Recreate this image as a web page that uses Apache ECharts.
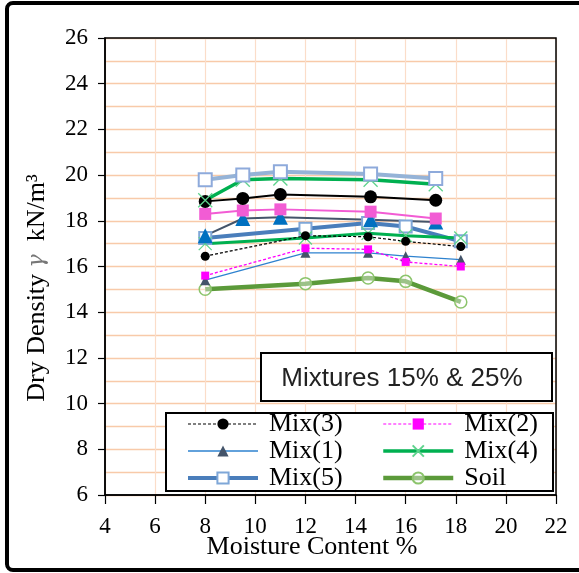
<!DOCTYPE html>
<html><head><meta charset="utf-8">
<script src="https://cdn.jsdelivr.net/npm/echarts@6/dist/echarts.min.js"></script>
<style>html,body{margin:0;padding:0;background:#fff}#c{width:579px;height:573px}</style>
</head><body><div id="c"></div>
<script>
// Moisture content (x) for the two groups of curves
const xUpper = [8, 9.5, 11, 14.6, 17.2];
const xLower = [8, 12, 14.5, 16, 18.2];
// Dry density values
const mix3Lower = [16.45, 17.35, 17.3, 17.1, 16.87];
const mix2Lower = [15.6, 16.8, 16.75, 16.2, 16.0];
const mix1Lower = [15.4, 16.6, 16.6, 16.45, 16.3];
const mix4Lower = [17.0, 17.25, 17.45, 17.35, 17.25];
const mix5Lower = [17.25, 17.65, 17.9, 17.75, 17.1];
const soil      = [15.0, 15.25, 15.5, 15.35, 14.45];
const mix3Upper = [18.85, 18.98, 19.15, 19.05, 18.9];
const mix2Upper = [18.3, 18.45, 18.5, 18.4, 18.1];
const mix1Upper = [17.35, 18.1, 18.15, 18.05, 17.95];
const mix4Upper = [18.9, 19.8, 19.85, 19.8, 19.6];
const mix5Upper = [19.8, 20.0, 20.15, 20.05, 19.85];
const legendCol1 = ['Mix(3)', 'Mix(1)', 'Mix(5)'];
const legendCol2 = ['Mix(2)', 'Mix(4)', 'Soil'];

const zip = (xs, ys) => xs.map((x, i) => [x, ys[i]]);
const XPATH = 'path://M0,0L10,10M10,0L0,10';

function ser(name, xs, ys, o) {
  return {
    name: name, type: 'line', data: zip(xs, ys),
    symbol: o.symbol, symbolSize: o.size,
    lineStyle: { color: o.line, width: o.width, type: o.dash ? [3, 2] : 'solid' },
    itemStyle: { color: o.fill, borderColor: o.stroke || o.fill, borderWidth: o.bw || 0 },
    emphasis: { disabled: true }, z: o.z || 2
  };
}

const series = [
  ser('Soil', xLower, soil, { symbol: 'circle', size: 12, line: '#5B9A3A', width: 4.5, fill: 'rgba(255,255,255,0.4)', stroke: '#8CC46C', bw: 1.5 }),
  ser('Mix(5)', xLower, mix5Lower, { symbol: 'rect', size: 12, line: '#4A7EBB', width: 4, fill: '#fff', stroke: '#7FA7D8', bw: 2 }),
  ser('Mix(4)', xLower, mix4Lower, { symbol: XPATH, size: 13, line: '#00B050', width: 3, fill: 'none', stroke: '#5FD38D', bw: 1.3 }),
  ser('Mix(1)', xLower, mix1Lower, { symbol: 'triangle', size: 10, line: '#2E82CF', width: 1.3, fill: '#44546A' }),
  ser('Mix(2)', xLower, mix2Lower, { symbol: 'rect', size: 8, line: '#FF00FF', width: 1.3, dash: true, fill: '#FF00FF' }),
  ser('Mix(3)', xLower, mix3Lower, { symbol: 'circle', size: 9, line: '#000', width: 1.2, dash: true, fill: '#000' }),
  ser('Mix(1) b', xUpper, mix1Upper, { symbol: 'triangle', size: 15, line: '#44546A', width: 2, fill: '#0070C0' }),
  ser('Mix(2) b', xUpper, mix2Upper, { symbol: 'rect', size: 12, line: '#F25CD4', width: 2, fill: '#F25CD4' }),
  ser('Mix(3) b', xUpper, mix3Upper, { symbol: 'circle', size: 13, line: '#000', width: 2, fill: '#000' }),
  ser('Mix(4) b', xUpper, mix4Upper, { symbol: XPATH, size: 14, line: '#00B050', width: 3.5, fill: 'none', stroke: '#5FD38D', bw: 1.3 }),
  ser('Mix(5) b', xUpper, mix5Upper, { symbol: 'rect', size: 13, line: '#95B3D7', width: 4, fill: '#fff', stroke: '#8EAADB', bw: 2 })
];

const legendLine = {
  'Mix(3)': { width: 1.2 }, 'Mix(1)': { width: 1.3 }, 'Mix(5)': { width: 4 },
  'Mix(2)': { width: 1.2 }, 'Mix(4)': { width: 3.5 }, 'Soil': { width: 4.5 }
};
const legItems = arr => arr.map(n => ({ name: n, lineStyle: legendLine[n] }));
const legendText = { fontFamily: 'Liberation Serif', fontSize: 26, color: '#000', lineHeight: 26, padding: [0, 0, 0, 6] };

const chart = echarts.init(document.getElementById('c'), null, { renderer: 'canvas' });
chart.setOption({
  animation: false,
  backgroundColor: '#fff',
  grid: { left: 105, right: 23, top: 38, bottom: 78 },
  xAxis: {
    type: 'value', min: 4, max: 22, interval: 2,
    axisLine: { show: true, onZero: false, lineStyle: { color: '#000', width: 1.5 } },
    axisTick: { show: true, length: 9, lineStyle: { color: '#000', width: 1.2 } },
    axisLabel: { fontFamily: 'Liberation Serif', fontSize: 23, color: '#000', margin: 20 },
    splitLine: { show: true, lineStyle: { color: '#FBDDC9', width: 1.2 } }
  },
  yAxis: {
    type: 'value', min: 6, max: 26, interval: 2,
    axisLine: { show: true, onZero: false, lineStyle: { color: '#000', width: 1.5 } },
    axisTick: { show: true, length: 7, lineStyle: { color: '#000', width: 1.2 } },
    axisLabel: { fontFamily: 'Liberation Serif', fontSize: 23, color: '#000', margin: 17 },
    splitLine: { show: true, lineStyle: { color: '#F8CAA9', width: 1.3 } },
    minorTick: { show: false, splitNumber: 2 },
    minorSplitLine: { show: true, lineStyle: { color: '#F8CAA9', width: 1.3 } }
  },
  legend: [
    { orient: 'vertical', left: 186, top: 411, padding: 0, itemGap: 1, itemWidth: 70, itemHeight: 14,
      data: legItems(legendCol1), textStyle: legendText, selectedMode: false },
    { orient: 'vertical', left: 381, top: 411, padding: 0, itemGap: 1, itemWidth: 70, itemHeight: 14,
      data: legItems(legendCol2), textStyle: legendText, selectedMode: false }
  ],
  graphic: [
    { type: 'rect', z: 100, shape: { x: 7, y: 3, width: 620, height: 567, r: 6 }, style: { fill: 'none', stroke: '#000', lineWidth: 4 } },
    { type: 'rect', z: 50, shape: { x: 105, y: 38, width: 451, height: 457 }, style: { fill: 'none', stroke: '#000', lineWidth: 1.5 } },
    { type: 'rect', z: 3, shape: { x: 261, y: 353, width: 291, height: 48 }, style: { fill: '#fff', stroke: '#000', lineWidth: 2 } },
    { type: 'text', z: 5, x: 402, y: 379, style: { text: 'Mixtures 15% & 25%', fontFamily: 'Liberation Sans', fontSize: 26, fill: '#222', align: 'center', verticalAlign: 'middle' } },
    { type: 'rect', z: 3, shape: { x: 166, y: 413, width: 387, height: 78 }, style: { fill: '#fff', stroke: '#000', lineWidth: 2 } },
    { type: 'text', z: 5, x: 312, y: 547, style: { text: 'Moisture Content %', fontFamily: 'Liberation Serif', fontSize: 26, fill: '#000', align: 'center', verticalAlign: 'middle' } },
    { type: 'text', z: 5, x: 37, y: 288, rotation: Math.PI / 2,
      style: { text: '{a|Dry Density }{g|γ}{a|  kN/m³}', align: 'center', verticalAlign: 'middle',
        rich: { a: { fontFamily: 'Liberation Serif', fontSize: 26, fill: '#000', color: '#000' },
                g: { fontFamily: 'DejaVu Serif', fontStyle: 'italic', fontSize: 22, fill: '#777', color: '#777' } } } }
  ],
  series: series
});
</script></body></html>
